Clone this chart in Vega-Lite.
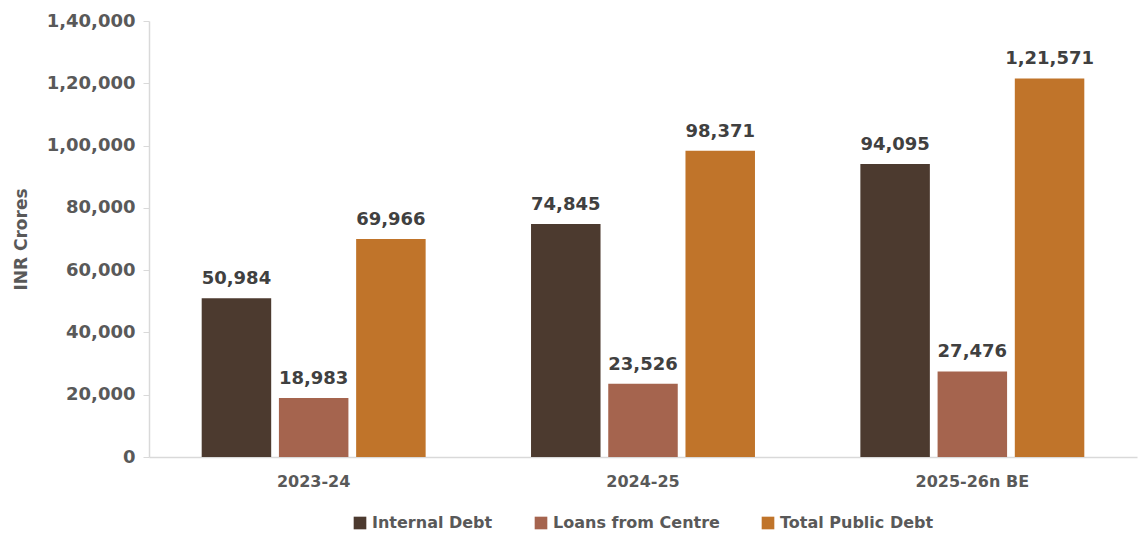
{
  "$schema": "https://vega.github.io/schema/vega-lite/v6.json",
  "width": 1140,
  "height": 535,
  "autosize": {"type": "fit", "contains": "padding"},
  "background": "white",
  "padding": {"left": 12, "right": 3, "top": 12, "bottom": 4},
  "config": {
    "view": {"stroke": null},
    "font": "DejaVu Sans",
    "legend": {"layout": {"bottom": {"anchor": "middle"}}}
  },
  "data": {
    "values": [
      {"Year": "2023-24", "Series": "Internal Debt", "Value": 50984},
      {"Year": "2023-24", "Series": "Loans from Centre", "Value": 18983},
      {"Year": "2023-24", "Series": "Total Public Debt", "Value": 69966},
      {"Year": "2024-25", "Series": "Internal Debt", "Value": 74845},
      {"Year": "2024-25", "Series": "Loans from Centre", "Value": 23526},
      {"Year": "2024-25", "Series": "Total Public Debt", "Value": 98371},
      {"Year": "2025-26n BE", "Series": "Internal Debt", "Value": 94095},
      {"Year": "2025-26n BE", "Series": "Loans from Centre", "Value": 27476},
      {"Year": "2025-26n BE", "Series": "Total Public Debt", "Value": 121571}
    ]
  },
  "transform": [
    {"calculate": "datum.Value >= 100000 ? floor(datum.Value / 100000) + ',' + format(floor((datum.Value % 100000) / 1000), '02d') + ',' + format(datum.Value % 1000, '03d') : format(datum.Value, ',d')", "as": "Label"}
  ],
  "encoding": {
    "x": {
      "field": "Year",
      "type": "nominal",
      "title": null,
      "scale": {"paddingInner": 0.32, "paddingOuter": 0.16},
      "axis": {
        "labelAngle": 0,
        "labelFontSize": 16,
        "labelFontWeight": "bold",
        "labelColor": "#595959",
        "labelPadding": 16,
        "ticks": false,
        "domainColor": "#d9d9d9",
        "domainWidth": 1.5
      }
    },
    "xOffset": {
      "field": "Series",
      "type": "nominal",
      "sort": ["Internal Debt", "Loans from Centre", "Total Public Debt"],
      "scale": {"paddingInner": 0.1}
    },
    "y": {
      "field": "Value",
      "type": "quantitative",
      "title": "INR Crores",
      "scale": {"domain": [0, 140000]},
      "axis": {
        "values": [0, 20000, 40000, 60000, 80000, 100000, 120000, 140000],
        "labelExpr": "datum.value >= 100000 ? floor(datum.value / 100000) + ',' + format(floor((datum.value % 100000) / 1000), '02d') + ',' + format(datum.value % 1000, '03d') : format(datum.value, ',d')",
        "grid": false,
        "labelFontSize": 18,
        "labelFontWeight": "bold",
        "labelColor": "#595959",
        "labelPadding": 8,
        "titleFontSize": 17,
        "titleFontWeight": "bold",
        "titleColor": "#595959",
        "titlePadding": 16,
        "domainColor": "#d9d9d9",
        "domainWidth": 1.5,
        "tickColor": "#d9d9d9",
        "tickSize": 6
      }
    }
  },
  "layer": [
    {
      "mark": {"type": "bar"},
      "encoding": {
        "color": {
          "field": "Series",
          "type": "nominal",
          "sort": ["Internal Debt", "Loans from Centre", "Total Public Debt"],
          "scale": {
            "domain": ["Internal Debt", "Loans from Centre", "Total Public Debt"],
            "range": ["#4c3a2f", "#a5644e", "#c0742a"]
          },
          "legend": {
            "title": null,
            "orient": "bottom",
            "direction": "horizontal",
            "symbolType": "square",
            "symbolSize": 160,
            "symbolStrokeWidth": 0,
            "labelFontSize": 16,
            "labelFontWeight": "bold",
            "labelColor": "#595959",
            "labelLimit": 400,
            "columnPadding": 40,
            "offset": 26
          }
        }
      }
    },
    {
      "mark": {
        "type": "text",
        "baseline": "bottom",
        "dy": -10,
        "fontSize": 18,
        "fontWeight": "bold",
        "color": "#404040"
      },
      "encoding": {
        "text": {"field": "Label", "type": "nominal"}
      }
    }
  ]
}
